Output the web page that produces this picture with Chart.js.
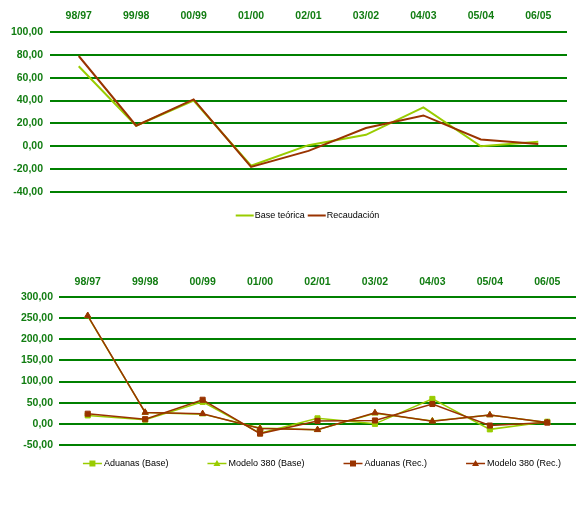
<!DOCTYPE html>
<html>
<head>
<meta charset="utf-8">
<script src="https://cdn.jsdelivr.net/npm/chart.js@4.4.0/dist/chart.umd.min.js"></script>
<style>
  html, body { margin: 0; padding: 0; background: #ffffff; }
  #wrap { position: relative; width: 588px; height: 526px; overflow: hidden; }
  canvas { position: absolute; left: 0; }
</style>
</head>
<body>
<div id="wrap">
  <canvas id="top" width="588" height="248" style="top:0px"></canvas>
  <canvas id="bottom" width="588" height="278" style="top:248px"></canvas>
</div>
<script>
// ---------- DATA ----------
const categories = ['98/97', '99/98', '00/99', '01/00', '02/01', '03/02', '04/03', '05/04', '06/05'];

const baseTeorica = [70, 18, 40, -17, 1, 10, 34, 0, 4];
const recaudacion = [79, 18, 41, -18, -4, 16, 27, 6, 2];

const aduanasBase = [20, 10, 52, -22, 13, 0, 59, -13, 5];
const modelo380Base = [255, 27, 23, -10, -14, 25, 7, 21, 3];
const aduanasRec = [24, 11, 57, -23, 7, 8, 47, -4, 3];
const modelo380Rec = [256, 27, 24, -11, -14, 26, 6, 21, 3];

const topLabels = ['Base teórica', 'Recaudación'];
const bottomLabels = ['Aduanas (Base)', 'Modelo 380 (Base)', 'Aduanas (Rec.)', 'Modelo 380 (Rec.)'];

// ---------- STYLE ----------
const GREEN_LIGHT = '#99cc00';
const BROWN = '#993300';
const GRID_GREEN = '#008000';
const TICK_GREEN = '#127d12';
const FONT = '"Liberation Sans", Arial, sans-serif';

const fmt = v => v.toFixed(2).replace('.', ',');

// custom Excel-like legend (line + marker + text)
const excelLegend = {
  id: 'excelLegend',
  afterDraw(chart) {
    const o = chart.options.plugins.excelLegend;
    if (!o || !o.display) return;
    const ctx = chart.ctx;
    const area = chart.chartArea;
    ctx.save();
    ctx.font = o.font;
    ctx.textBaseline = 'middle';
    const lineLen = o.lineLen, textGap = o.textGap, gap = o.gap;
    const items = chart.data.datasets.map(ds => ({
      text: ds.label,
      color: ds.borderColor,
      style: ds.pointStyle,
      marker: ds.pointRadius > 0,
      w: ctx.measureText(ds.label).width
    }));
    let total = 0;
    items.forEach((it, i) => { total += lineLen + textGap + it.w + (i ? gap : 0); });
    let x = o.centerX - total / 2;
    const y = Math.round(area.bottom + o.offsetY) + 0.5;
    items.forEach(it => {
      ctx.strokeStyle = it.color;
      ctx.lineWidth = o.lineWidth;
      ctx.beginPath();
      ctx.moveTo(x, y);
      ctx.lineTo(x + lineLen, y);
      ctx.stroke();
      if (it.marker) {
        const cx = x + lineLen / 2;
        ctx.fillStyle = it.color;
        ctx.beginPath();
        if (it.style === 'triangle') {
          ctx.moveTo(cx, y - 3.5);
          ctx.lineTo(cx + 3.5, y + 2.5);
          ctx.lineTo(cx - 3.5, y + 2.5);
          ctx.closePath();
        } else {
          ctx.rect(cx - 3, y - 3, 6, 6);
        }
        ctx.fill();
      }
      x += lineLen + textGap;
      ctx.fillStyle = '#000000';
      ctx.fillText(it.text, x, y);
      x += it.w + gap;
    });
    ctx.restore();
  }
};

function makeOptions(cfg) {
  return {
    responsive: false,
    animation: false,
    layout: { padding: cfg.padding },
    plugins: {
      legend: { display: false },
      tooltip: { enabled: false },
      excelLegend: cfg.legend
    },
    scales: {
      x: {
        position: 'top',
        offset: true,
        grid: { display: false },
        border: { display: false },
        ticks: {
          color: TICK_GREEN,
          font: { family: FONT, size: 10.5, weight: 'bold' },
          padding: cfg.xPad,
          maxRotation: 0,
          autoSkip: false
        },
        afterFit: s => { s.height = cfg.xHeight; }
      },
      y: {
        min: cfg.min,
        max: cfg.max,
        grid: { color: GRID_GREEN, lineWidth: 2, drawTicks: false },
        border: { display: false },
        ticks: {
          stepSize: cfg.step,
          color: TICK_GREEN,
          font: { family: FONT, size: 10.5, weight: 'bold' },
          padding: cfg.yPad,
          callback: v => fmt(v)
        },
        afterFit: s => { s.width = cfg.yWidth; }
      }
    }
  };
}

// ---------- TOP CHART ----------
new Chart(document.getElementById('top'), {
  type: 'line',
  data: {
    labels: categories,
    datasets: [
      { label: topLabels[0], data: baseTeorica, borderColor: GREEN_LIGHT, backgroundColor: GREEN_LIGHT,
        borderWidth: 2, pointRadius: 0, tension: 0, order: 2 },
      { label: topLabels[1], data: recaudacion, borderColor: BROWN, backgroundColor: BROWN,
        borderWidth: 2, pointRadius: 0, tension: 0, order: 1 }
    ]
  },
  options: makeOptions({
    padding: { left: 0, right: 21, top: 0, bottom: 56 },
    xHeight: 32, xPad: 2, yWidth: 50, yPad: 7,
    min: -40, max: 100, step: 20,
    legend: { display: true, font: '9px ' + FONT, lineLen: 18, textGap: 1, gap: 3,
              lineWidth: 2, centerX: 307.5, offsetY: 23 }
  }),
  plugins: [excelLegend]
});

// ---------- BOTTOM CHART ----------
function ds(label, data, color, style, order) {
  return {
    label, data, borderColor: color, backgroundColor: color,
    borderWidth: 1.5, tension: 0, order,
    pointStyle: style, pointRadius: 3.6,
    pointBackgroundColor: color, pointBorderColor: color, pointBorderWidth: 1,
    pointHoverRadius: 3.6
  };
}

new Chart(document.getElementById('bottom'), {
  type: 'line',
  data: {
    labels: categories,
    datasets: [
      ds(bottomLabels[0], aduanasBase, GREEN_LIGHT, 'rect', 4),
      ds(bottomLabels[1], modelo380Base, GREEN_LIGHT, 'triangle', 3),
      ds(bottomLabels[2], aduanasRec, BROWN, 'rect', 2),
      ds(bottomLabels[3], modelo380Rec, BROWN, 'triangle', 1)
    ]
  },
  options: makeOptions({
    padding: { left: 0, right: 12, top: 0, bottom: 81 },
    xHeight: 49, xPad: 1, yWidth: 59, yPad: 6,
    min: -50, max: 300, step: 50,
    legend: { display: true, font: '9px ' + FONT, lineLen: 19, textGap: 2, gap: 39,
              lineWidth: 1.5, centerX: 322, offsetY: 18 }
  }),
  plugins: [excelLegend]
});
</script>
</body>
</html>
